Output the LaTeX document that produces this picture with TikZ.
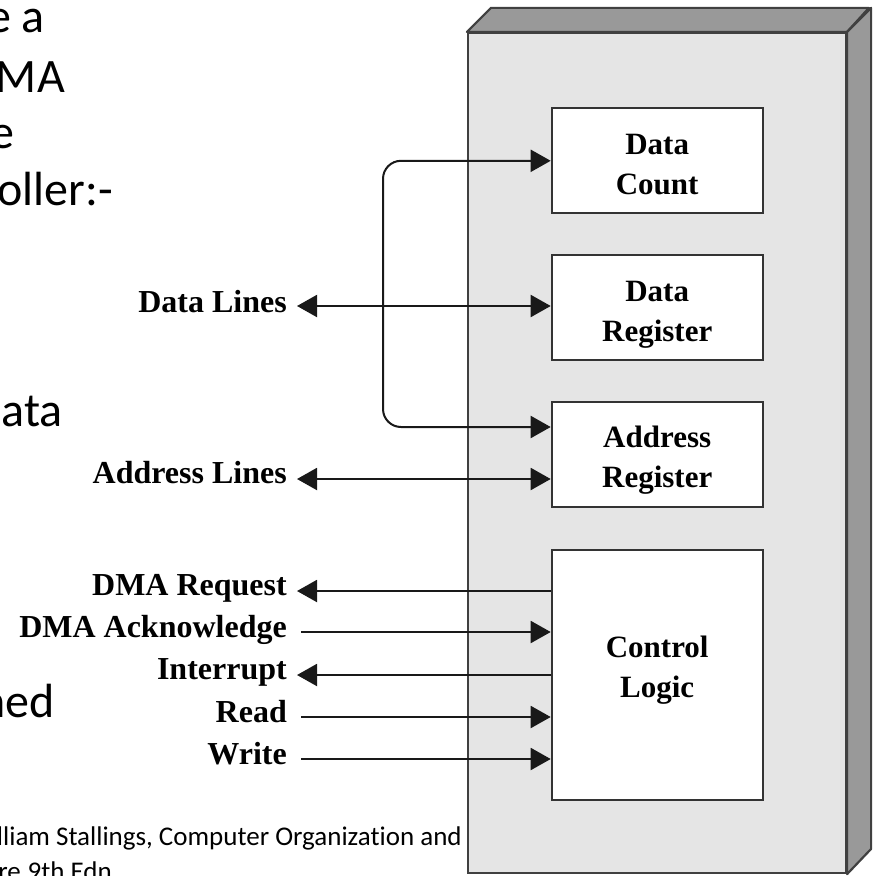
\documentclass[tikz,border=0pt]{standalone}
\usepackage{fontspec}
\setmainfont{Liberation Serif}
\newfontfamily\slidefont[Ligatures=NoCommon]{Carlito}
\usetikzlibrary{arrows.meta}
\begin{document}
\begin{tikzpicture}[x=1pt,y=-1pt,
  >={Triangle[length=20pt,width=22pt]},
  face/.style={draw=black!75, line width=2.2pt, fill=black!10, inner sep=0pt},
  sideface/.style={draw=black!75, line width=2.2pt, fill=black!40, line join=round},
  regbox/.style={draw=black!80, line width=2pt, fill=white, minimum width=211pt, minimum height=105pt, inner sep=0pt},
  boxtext/.style={font=\fontsize{31}{40}\selectfont\bfseries, align=center, inner sep=0pt},
  sig/.style={font=\fontsize{32}{36}\selectfont\bfseries, anchor=base east, inner sep=0pt},
  slide/.style={font=\slidefont\fontsize{48}{56}\selectfont, anchor=base east, inner sep=0pt},
  foot/.style={font=\slidefont\fontsize{27}{32}\selectfont, anchor=base east, inner sep=0pt},
  wire/.style={draw=black!90, line width=2pt},
]
\useasboundingbox (0,0) rectangle (877,875);
\clip (0,0) rectangle (877,875);

% slide text fragments
\node[slide] (s1) at (45,33) {e a};
\node[slide] (s2) at (65,92) {MA};
\node[slide] (s3) at (15,148) {e};
\node[slide] (s4) at (113,205) {oller:-};
\node[slide] (s5) at (63,426) {ata};
\node[slide] (s6) at (55,717) {ned};
\node[foot] (f1) at (462,845) {illiam Stallings, Computer Organization and};
\node[foot] (f2) at (112,880) {re.9th Edn};

% DMA module (3D box)
\node[face, minimum width=378pt, minimum height=840pt] (dma) at (657,453) {};
\draw[sideface] (dma.north west) -- ++(24,-24) -- ++(378,0) -- (dma.north east) -- cycle;
\draw[sideface] (dma.north east) -- ++(24,-24) -- ++(0,841) -- (dma.south east) -- cycle;

% registers
\node[regbox] (dc) at (657.2,160.8) {};
\node[regbox] (dr) at (657.2,307.5) {};
\node[regbox] (ar) at (657.2,454.5) {};
\node[regbox, minimum height=250pt] (cl) at (657.2,675.3) {};
\node[boxtext] (dct) at (657.2,164.7) {Data\\Count};
\node[boxtext] (drt) at (657.2,314.9) {Data\\Register};
\node[boxtext] (art) at (657.2,460.6) {Address\\Register};
\node[boxtext] (clt) at (657.2,670.6) {Control\\Logic};

% signal labels
\node[sig] (dl) at (287,312) {Data Lines};
\node[sig] (al) at (287,483) {Address Lines};
\node[sig] (rq) at (287,595) {DMA Request};
\node[sig] (ak) at (287,637) {DMA Acknowledge};
\node[sig] (ir) at (287,679) {Interrupt};
\node[sig] (rd) at (287,722) {Read};
\node[sig] (wr) at (287,764) {Write};

\coordinate (dlp) at (297,306);
\coordinate (alp) at (297,479);
\coordinate (drq) at (297,591);
\coordinate (dak) at (301,632);
\coordinate (irq) at (297,675);
\coordinate (rdp) at (301,717);
\coordinate (wrp) at (301,759);
\coordinate (lc) at (383,427);

\draw[wire,<->] (dlp) -- (dr.west |- dlp);
\draw[wire,<->] (alp) -- (ar.west |- alp);
\draw[wire,<-] (drq) -- (cl.west |- drq);
\draw[wire,->] (dak) -- (cl.west |- dak);
\draw[wire,<-] (irq) -- (cl.west |- irq);
\draw[wire,->] (rdp) -- (cl.west |- rdp);
\draw[wire,->] (wrp) -- (cl.west |- wrp);
\draw[wire,<->,rounded corners=18pt] (dc.west) -| (lc) -- (ar.west |- lc);
\end{tikzpicture}
\end{document}
